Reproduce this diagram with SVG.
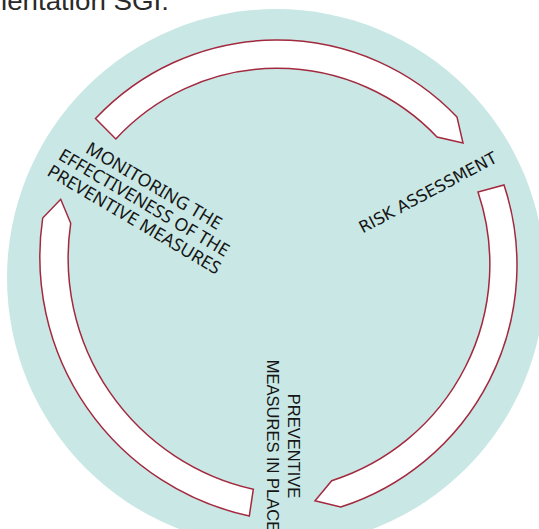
<svg xmlns="http://www.w3.org/2000/svg" width="539" height="529" viewBox="0 0 539 529">
<style>
.arrow{fill:#ffffff;stroke:#a3293f;stroke-width:1.5;stroke-linejoin:miter}
.lbl{fill:#161616;text-anchor:middle}
.mon{font-family:"Noto Sans","DejaVu Sans",sans-serif;font-size:17.8px}
.risk{font-family:"DejaVu Sans","Noto Sans",sans-serif;font-size:16.5px}
.prev{font-family:"Liberation Sans",Arial,sans-serif;font-size:16.5px}
</style>
<rect x="0" y="0" width="539" height="529" fill="#ffffff"/>
<text x="1" y="10" font-family="'Liberation Sans',Arial,sans-serif" font-size="26" fill="#2a2a2a" textLength="168" lengthAdjust="spacingAndGlyphs">ientation SGI.</text>
<circle id="cycle-bg" cx="276" cy="278" r="269" fill="#c9e8e5"/>
<g id="connectors">
<path class="arrow" d="M95.5,118.6 A249,249 0 0 1 457,117 L463,143 L437,137 A220,220 0 0 0 115.8,139 Z"/>
<path class="arrow" d="M504,185 A254,254 0 0 1 340.7,507 L315,500.7 L331.7,480.7 A227,227 0 0 0 478,192 Z"/>
<path class="arrow" d="M249.3,516 A265,265 0 0 1 42.7,218 L60.7,199.3 L70.7,223.3 A237,237 0 0 0 253.3,489.3 Z"/>
</g>
<g id="monitoring" transform="translate(141,208) rotate(30.5)">
<text class="lbl mon" x="0" y="-19.5">MONITORING THE</text>
<text class="lbl mon" x="0" y="0">EFFECTIVENESS OF THE</text>
<text class="lbl mon" x="0" y="19.5">PREVENTIVE MEASURES</text>
</g>
<g id="risk" transform="translate(430.5,197.5) rotate(-28)">
<text class="lbl risk" x="0" y="0">RISK ASSESSMENT</text>
</g>
<g id="preventive" transform="translate(288.3,446) rotate(90)">
<text class="lbl prev" x="0" y="0">PREVENTIVE</text>
<text class="lbl prev" x="0" y="21.6">MEASURES IN PLACE</text>
</g>
</svg>
